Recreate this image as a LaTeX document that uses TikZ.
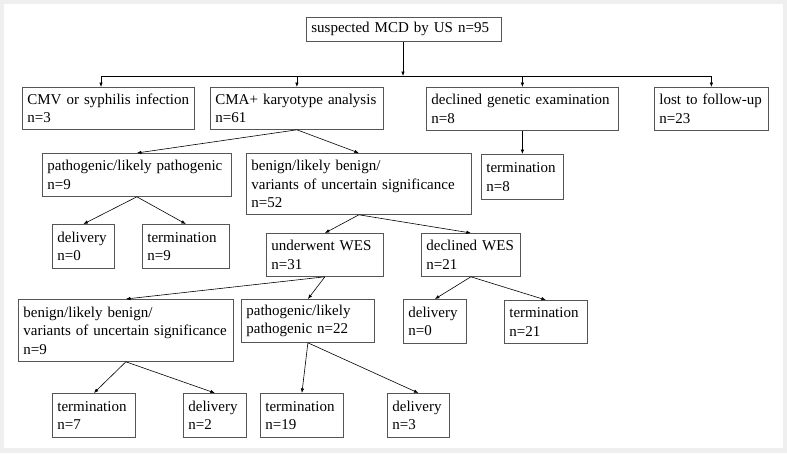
\documentclass[tikz,border=0pt]{standalone}
\usepackage{fontspec}
\setmainfont{Liberation Serif}
\usetikzlibrary{arrows.meta,positioning,calc}

\definecolor{pagegray}{HTML}{EFEFEF}
\definecolor{boxline}{HTML}{555555}

\tikzset{
  box/.style={draw=boxline, line width=0.8pt, rectangle, anchor=north west,
    inner xsep=5pt, inner ysep=0pt, align=left,
    font=\fontsize{15}{18.5}\selectfont},
  arr/.style={-{Latex[length=4.5pt,width=3.5pt]}, line width=0.6pt},
  bus/.style={line width=0.8pt}
}

% box from its top left corner: name, x, y, width, height, text
\newcommand{\flowbox}[6]{%
  \pgfmathsetmacro\boxtw{#4-10}%
  \node[box, minimum width=#4pt, minimum height=#5pt, text width=\boxtw pt] (#1) at (#2,#3) {#6};}

\begin{document}
\begin{tikzpicture}[x=1pt, y=-1pt]
	\fill[pagegray] (0,0) rectangle (787,453);
	\fill[white] (4,4) rectangle (783,448);
	\useasboundingbox (0,0) rectangle (787,453);
	%
	\flowbox{us}{306}{17}{195}{24}{suspected MCD by US n=95}
	% first split
	\flowbox{cmv}{22}{87}{172}{42}{CMV or syphilis infection\\n=3}
	\flowbox{cma}{210}{87}{173}{42}{CMA+ karyotype analysis\\n=61}
	\flowbox{declgen}{426}{87}{192}{43}{declined genetic examination\\n=8}
	\flowbox{lost}{654}{87}{114}{43}{lost to follow-up\\n=23}
	\flowbox{termA}{481}{154}{82}{45}{termination\\n=8}
	% CMA results
	\flowbox{pathA}{42}{153}{189}{43}{pathogenic/likely pathogenic\\n=9}
	\flowbox{benA}{246}{153}{225}{61}{benign/likely benign/\\variants of uncertain significance\\n=52}
	\flowbox{delA}{52}{224}{62}{44}{delivery\\n=0}
	\flowbox{termB}{142}{224}{87}{44}{termination\\n=9}
	\flowbox{wes}{266}{233}{117}{43}{underwent WES\\n=31}
	\flowbox{nowes}{421}{233}{99}{43}{declined WES\\n=21}
	% WES results
	\flowbox{benB}{18}{299}{215}{62}{benign/likely benign/\\variants of uncertain significance\\n=9}
	\flowbox{pathB}{241}{299}{133}{43}{pathogenic/likely\\pathogenic n=22}
	\flowbox{delB}{403}{299}{63}{44}{delivery\\n=0}
	\flowbox{termC}{504}{300}{83}{43}{termination\\n=21}
	\flowbox{termD}{52}{393}{83}{44}{termination\\n=7}
	\flowbox{delC}{183}{393}{63}{44}{delivery\\n=2}
	\flowbox{termE}{260}{393}{83}{44}{termination\\n=19}
	\flowbox{delD}{387}{393}{62}{44}{delivery\\n=3}
	%
	\coordinate (split) at (403,76);
	\coordinate (b1) at (101,76);
	\coordinate (b4) at (lost.north |- split);
	\draw[arr] (us.south -| split) -- (split);
	\draw[bus] (b1) -- (b4);
	\draw[arr] (b1) -- (b1 |- cmv.north);
	\draw[arr] (cma.north |- split) -- (cma.north);
	\draw[arr] (declgen.north |- split) -- (declgen.north);
	\draw[arr] (b4) -- (lost.north);
	\draw[arr] (declgen.south) -- (termA.north);
	%
	\draw[arr] (cma.south) -- (pathA.north);
	\draw[arr] (cma.south) -- (benA.north);
	\draw[arr] (pathA.south) -- (delA.north);
	\draw[arr] (pathA.south) -- (termB.north);
	\draw[arr] (benA.south) -- (wes.north);
	\draw[arr] (benA.south) -- (nowes.north);
	\draw[arr] (wes.south) -- (benB.north);
	\draw[arr] (wes.south) -- (pathB.north);
	\draw[arr] (nowes.south) -- (delB.north);
	\draw[arr] (nowes.south) -- (termC.north);
	\draw[arr] (benB.south) -- (termD.north);
	\draw[arr] (benB.south) -- (delC.north);
	\draw[arr] (pathB.south) -- (termE.north);
	\draw[arr] (pathB.south) -- (delD.north);
\end{tikzpicture}
\end{document}
